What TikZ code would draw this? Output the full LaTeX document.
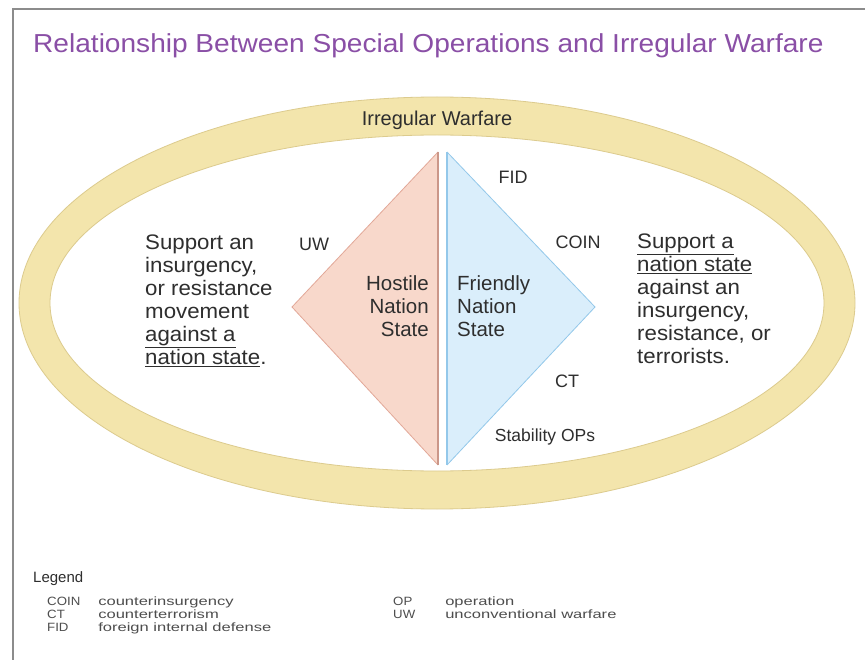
\documentclass[tikz,border=0pt]{standalone}
\usepackage{fontspec}
\setmainfont{Liberation Sans}
\usetikzlibrary{calc}
\definecolor{titlepurple}{HTML}{8A4FA6}
\definecolor{bandfill}{HTML}{F3E5AC}
\definecolor{bandedge}{HTML}{DCCB8E}
\definecolor{redfill}{HTML}{F8D8CB}
\definecolor{rededge}{HTML}{E2A898}
\definecolor{bluefill}{HTML}{DAEEFB}
\definecolor{blueedge}{HTML}{93C8EA}
\definecolor{txt}{HTML}{2E2E2E}
\definecolor{frame}{HTML}{8C8C8C}
\tikzset{
  body/.style={font=\fontsize{21}{23}\selectfont, text=txt, inner sep=0pt, xscale=1.06},
  lbl/.style={font=\fontsize{18}{22}\selectfont, text=txt, inner sep=0pt},
  leg/.style={font=\fontsize{12}{13}\selectfont, text=txt!85, inner sep=0pt, anchor=base west, xscale=1.38},
  legkey/.style={leg, xscale=0.8},
}
\newcommand{\ul}[1]{\underline{#1}}
\begin{document}
\begin{tikzpicture}[x=1pt,y=-1pt]
\useasboundingbox (0,0) rectangle (865,660);
\clip (0,0) rectangle (865,660);
\fill[white] (0,0) rectangle (865,660);
% frame
\draw[frame, line width=2pt] (13,700) -- (13,9) -- (900,9);
% title
\node[anchor=base west, inner sep=0pt, text=titlepurple, font=\fontsize{26}{30}\selectfont, xscale=1.08] (title) at (33,53) {Relationship Between Special Operations and Irregular Warfare};
% ellipse band
\fill[bandfill, even odd rule] (437,303) ellipse [x radius=418, y radius=206] (437,303) ellipse [x radius=387, y radius=168];
\draw[bandedge, line width=0.8pt] (437,303) ellipse [x radius=418, y radius=206];
\draw[bandedge, line width=0.8pt] (437,303) ellipse [x radius=387, y radius=168];
\node[lbl, font=\fontsize{20}{22}\selectfont] (iw) at (437,120) {Irregular Warfare};
% triangles
\coordinate (rt) at (438,152);
\coordinate (rb) at (438,465);
\coordinate (rl) at (292,307);
\coordinate (bt) at (447,152);
\coordinate (bb) at (447,465);
\coordinate (br) at (595,307);
\fill[redfill] (rt) -- (rl) -- (rb) -- cycle;
\draw[rededge, line width=0.8pt] (rt) -- (rl) -- (rb);
\draw[rededge!90!black, line width=2.2pt] (rt) -- (rb);
\fill[bluefill] (bt) -- (br) -- (bb) -- cycle;
\draw[blueedge, line width=0.8pt] (bt) -- (br) -- (bb);
\draw[blueedge, line width=1.6pt] (bt) -- (bb);
% diamond texts
\node[lbl, align=right, anchor=east, font=\fontsize{20.5}{23}\selectfont] (hostile) at (429,306) {Hostile\\Nation\\State};
\node[lbl, align=left, anchor=west, font=\fontsize{20.5}{23}\selectfont] (friendly) at (457,306) {Friendly\\Nation\\State};
\node[lbl] (fid) at (513,177) {FID};
\node[lbl] (uw) at (314,244) {UW};
\node[lbl] (coin) at (578,242) {COIN};
\node[lbl] (ct) at (567,381) {CT};
\node[lbl, font=\fontsize{17.5}{22}\selectfont] (stab) at (545,437) {Stability OPs};
% side texts
\node[body, align=left, anchor=north west] (left) at (145,235) {Support an\\insurgency,\\or resistance\\movement\\\ul{against a}\\\ul{nation state}.};
\node[body, align=left, anchor=north west] (right) at (637,234) {\ul{Support a}\\\ul{nation state}\\against an\\insurgency,\\resistance, or\\terrorists.};
% legend
\node[inner sep=0pt, anchor=base west, text=txt, font=\fontsize{15}{16}\selectfont] (legend) at (33,582) {Legend};
\node[legkey] (k1) at (47,605) {COIN};
\node[legkey] (k2) at (47,618) {CT};
\node[legkey] (k3) at (47,631) {FID};
\node[leg] (d1) at (98,605) {counterinsurgency};
\node[leg] (d2) at (98,618) {counterterrorism};
\node[leg] (d3) at (98,631) {foreign internal defense};
\node[legkey] (k4) at (393,605) {OP};
\node[legkey] (k5) at (393,618) {UW};
\node[leg] (d4) at (445,605) {operation};
\node[leg] (d5) at (445,618) {unconventional warfare};
\end{tikzpicture}
\end{document}
